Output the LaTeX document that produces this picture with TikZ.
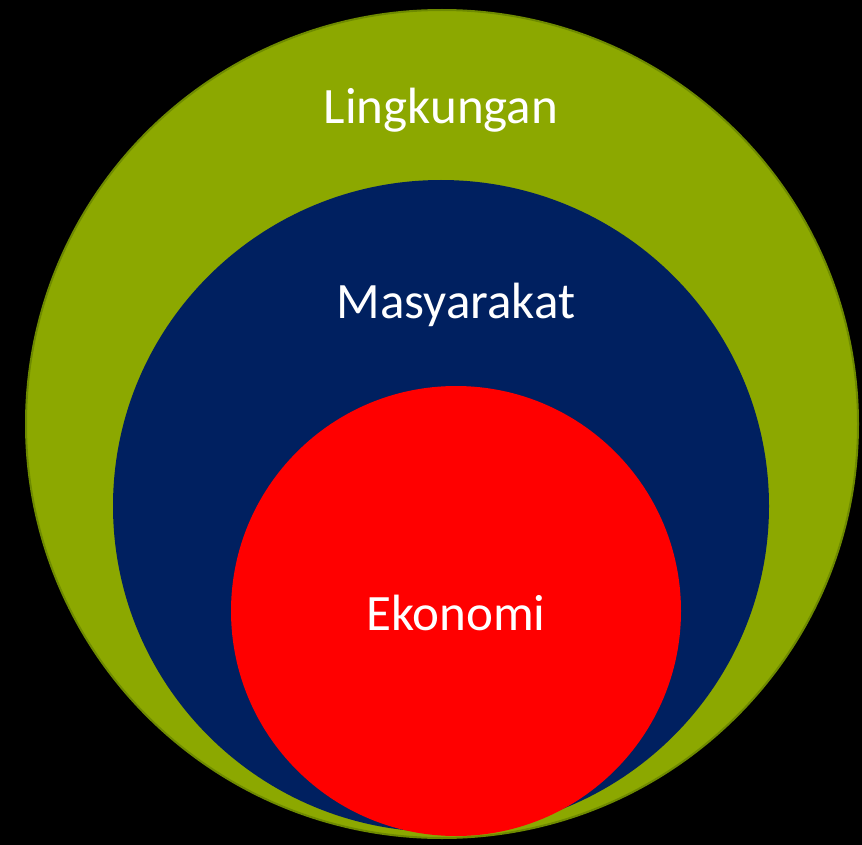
\documentclass[tikz,border=0pt]{standalone}
\usepackage{fontspec}
\setmainfont{Carlito}
\definecolor{envgreen}{RGB}{140,168,0}
\definecolor{envedge}{RGB}{110,138,0}
\definecolor{socblue}{RGB}{0,32,96}
\definecolor{ecored}{RGB}{255,0,0}
\begin{document}
\begin{tikzpicture}[x=1pt,y=-1pt,
  lbl/.style={text=white,font=\fontsize{51}{60}\selectfont,anchor=base,inner sep=0pt}]
\fill[black] (0,0) rectangle (862,845);
\useasboundingbox (0,0) rectangle (862,845);
\filldraw[fill=envgreen,draw=envedge,line width=2pt] (442,424) ellipse [x radius=416, y radius=414];
\fill[socblue] (441,506) ellipse [x radius=328, y radius=326];
\fill[ecored] (456,611) circle [radius=225];
\node[lbl] (env) at (441,124) {Lingkungan};
\node[lbl] (soc) at (456,318) {Masyarakat};
\node[lbl] (eco) at (456,630) {Ekonomi};
\end{tikzpicture}
\end{document}
